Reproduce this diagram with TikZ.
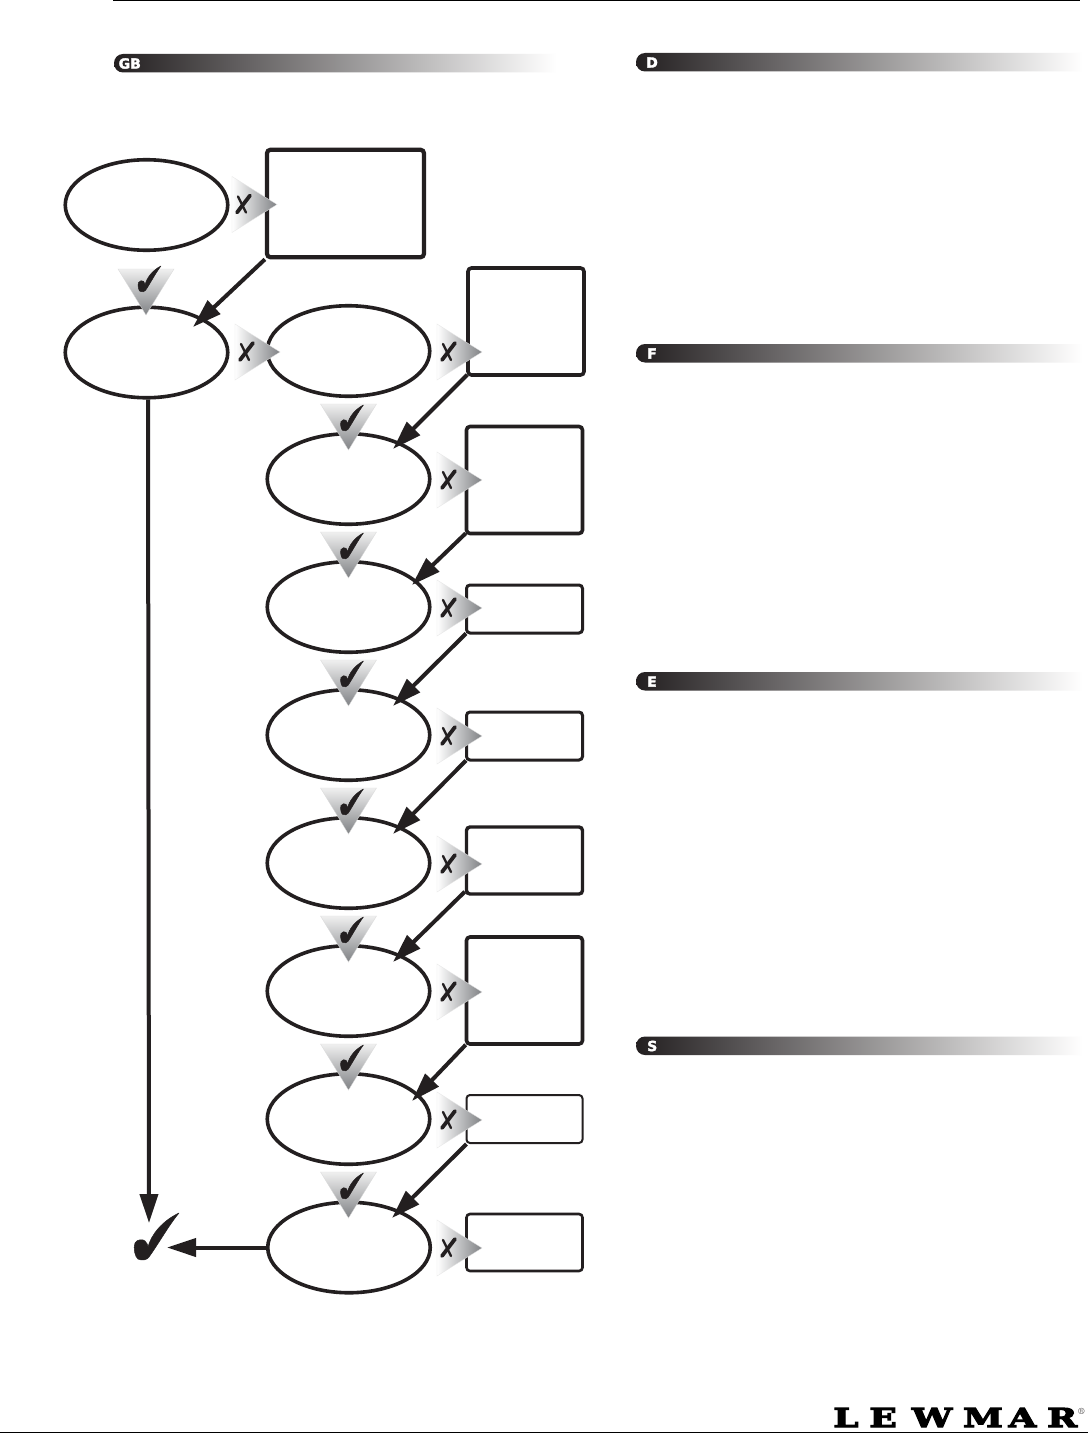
\documentclass[tikz,border=0pt]{standalone}
\usepackage{fontspec}
\usetikzlibrary{shapes.geometric,arrows.meta}
\newfontfamily\headfont[FakeBold=2.2]{DejaVu Sans Bold}
\newfontfamily\logofont[FakeStretch=1.3,FakeBold=4.5]{DejaVu Serif Bold}
\definecolor{ink}{HTML}{231F20}
\definecolor{shadeg}{HTML}{808285}
\tikzset{
  x=1pt,y=-1pt,
  oval/.style={draw=ink,line width=3.6pt,ellipse,inner sep=0pt,minimum width=162.5pt,minimum height=90.5pt},
  panel/.style={draw=ink,rounded corners=3.5pt,inner sep=0pt,line width=#1},
  panel/.default=3.6pt,
  flow/.style={draw=ink,line width=4pt,-{Triangle[length=29pt,width=18pt]}},
  headlabel/.style={text=white,font=\headfont\fontsize{14}{14}\selectfont,inner sep=0pt,anchor=west},
  tickmark/.pic={\filldraw[ink,line width=.5pt,line join=round] (45,0) .. controls (35,12) and (25,30) .. (15,44) .. controls (13,47) and (8,48) .. (4,46) .. controls (1,44) and (-1,35) .. (1,30) .. controls (3,26) and (9,26) .. (11,28) .. controls (13,30) and (14,32) .. (14,34) .. controls (17,22) and (28,8) .. (45,0) -- cycle;},
  notri/.pic={
    \shade[left color=white,middle color=black!18,right color=shadeg,draw=black!10,line width=.3pt] (-45,-28) -- (0,0) -- (-45,28) -- cycle;
    \draw[ink,line width=2.4pt,line cap=round] (-39,-8) -- (-31,8);
    \draw[ink,line width=3.8pt,line cap=round] (-27,-9) -- (-40,8);
  },
  yestri/.pic={
    \shade[top color=black!6,middle color=black!24,bottom color=shadeg,draw=black!15,line width=.3pt] (-28,-46) -- (28,-46) -- (0,0) -- cycle;
  }
}
\newcommand{\headbar}[3]{% x1, y1, x2 (height 18.5)
  \shade[left color=ink,right color=white]
    (#1+9,#2) .. controls (#1+4,#2) and (#1,#2+4) .. (#1,#2+9.25) .. controls (#1,#2+14.5) and (#1+4,#2+18.5) .. (#1+9,#2+18.5) -- (#3,#2+18.5) -- (#3,#2) -- cycle;
}
\begin{document}
\begin{tikzpicture}
\useasboundingbox (0,0) rectangle (1088,1434);
\fill[white] (0,0) rectangle (1088,1434);
% rules
\coordinate (rt1) at (113,.6); \coordinate (rt2) at (1080,.6);
\coordinate (rb1) at (0,1432.6); \coordinate (rb2) at (1088,1432.6);
\draw[black,line width=1.2pt] (rt1) -- (rt2);
\draw[black,line width=1.2pt] (rb1) -- (rb2);
% header bars
\headbar{114}{54}{556}
\headbar{636}{53}{1082}
\headbar{636}{344}{1082}
\headbar{636}{672}{1082}
\headbar{636}{1036.5}{1082}
\node[headlabel] (hgb) at (118.5,63.5) {GB};
\node[headlabel] (hd) at (646,62.5) {D};
\node[headlabel] (hf) at (647,353.5) {F};
\node[headlabel] (he) at (647,681.5) {E};
\node[headlabel] (hs) at (647,1046) {S};
% ovals
\node[oval] (e0) at (146.5,205) {};
\node[oval] (e1) at (146.5,352.5) {};
\node[oval] (e2) at (348.5,351) {};
\node[oval] (e3) at (348.5,479) {};
\node[oval] (e4) at (348.5,607) {};
\node[oval] (e5) at (348.5,735) {};
\node[oval] (e6) at (348.5,863) {};
\node[oval] (e7) at (348.5,991) {};
\node[oval] (e8) at (348.5,1119) {};
\node[oval] (e9) at (349,1247.5) {};
% panels
\node[panel=4.2pt,minimum width=157pt,minimum height=107.5pt] (b0) at (345.5,203.5) {};
\node[panel,minimum width=116pt,minimum height=107pt] (b1) at (526,321.5) {};
\node[panel,minimum width=116pt,minimum height=107pt] (b2) at (524.5,480) {};
\node[panel=3pt,minimum width=116pt,minimum height=48pt] (b3) at (524.5,609) {};
\node[panel=3pt,minimum width=116pt,minimum height=48pt] (b4) at (524.5,736) {};
\node[panel=3.4pt,minimum width=116pt,minimum height=67pt] (b5) at (524.5,860.5) {};
\node[panel,minimum width=116pt,minimum height=107pt] (b6) at (524.5,990.5) {};
\node[panel=2pt,minimum width=116pt,minimum height=48pt] (b7) at (524.5,1119) {};
\node[panel=2.6pt,minimum width=116pt,minimum height=57pt] (b8) at (524.5,1242.5) {};
% connector ends
\coordinate (t1) at (193,327);
\coordinate (t3) at (393,449);
\coordinate (t4) at (412,585);
\coordinate (t5) at (393,706);
\coordinate (t6) at (393,834);
\coordinate (t7) at (393,962);
\coordinate (t8) at (412,1101);
\coordinate (t9) at (392,1218);
\coordinate (td) at (149,1223);
\coordinate (th) at (167,1247.5);
% connectors
\draw[flow] (b0.south west) -- (t1);
\draw[flow] ([shift={(1,-2)}]b1.south west) -- (t3);
\draw[flow] ([shift={(1,-2)}]b2.south west) -- (t4);
\draw[flow] ([shift={(1,-1)}]b3.south west) -- (t5);
\draw[flow] ([shift={(1,-1)}]b4.south west) -- (t6);
\draw[flow] ([shift={(0,-4)}]b5.south west) -- (t7);
\draw[flow] ([shift={(1,-1)}]b6.south west) -- (t8);
\draw[flow] ([shift={(1,0)}]b7.south west) -- (t9);
\draw[flow] ([xshift=1.5pt]e1.south) -- (td);
\draw[flow] (e9.west) -- (th);
% final tick
\pic at (134,1213) {tickmark};
% decision markers
\pic at (277,204.5) {notri};
\pic at (280,352) {notri};
\foreach \y in {352,480,608,736,864,992,1120,1248} \pic at (482,\y) {notri};
\pic at (146,315) {yestri};
\pic[xscale=.51,yscale=.55] at (138,266) {tickmark};
\foreach \y in {450,578,706,834,962,1090,1218} {
  \pic at (348.5,\y) {yestri};
  \pic[xscale=.51,yscale=.55] at (340.5,\y-45) {tickmark};
}
% logo
\node[inner sep=0pt,anchor=west] (logo) at (833,1417.5) {\resizebox{244pt}{19pt}{\logofont\fontsize{26}{26}\selectfont L\kern 10pt E\kern 14pt W\kern 10pt M\kern 5pt A\kern 10pt R}};
\node[inner sep=0pt,text=ink,font=\fontsize{9}{9}\selectfont] (reg) at (1081.5,1411.5) {®};
\end{tikzpicture}
\end{document}
